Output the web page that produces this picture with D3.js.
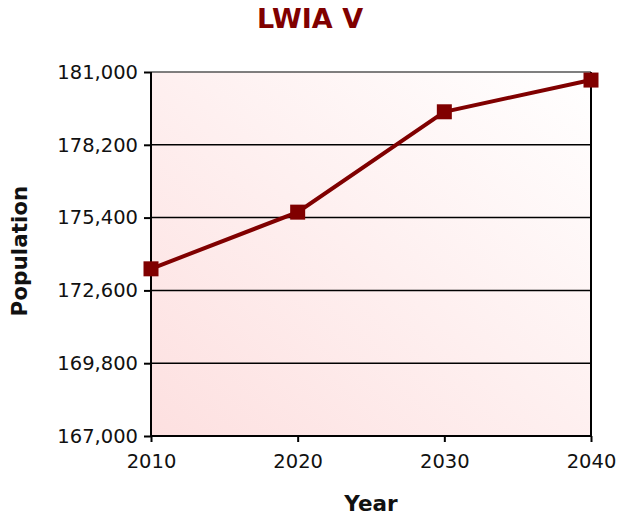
<!DOCTYPE html>
<html>
<head>
<meta charset="utf-8">
<script src="https://d3js.org/d3.v7.min.js"></script>
<style>
  body { margin: 0; background: #fff; }
  svg text { font-family: "DejaVu Sans", Verdana, sans-serif; }
</style>
</head>
<body>
<svg width="619" height="517"></svg>
<script>
'use strict'

var years = [2010, 2020, 2030, 2040];
var population = [173430, 175610, 179470, 180690];
var yTicks = [167000, 169800, 172600, 175400, 178200, 181000];
var title = "LWIA V";

var svg = d3.select("svg"),
  margin = { top: 72, right: 28, bottom: 81, left: 151 },
  width = +svg.attr("width") - margin.left - margin.right,
  height = +svg.attr("height") - margin.top - margin.bottom;

var x = d3.scaleLinear().domain([2010, 2040]).range([0, width]);
var y = d3.scaleLinear().domain([167000, 181000]).range([height, 0]);

var defs = svg.append("defs");
var grad = defs.append("linearGradient")
  .attr("id", "bg")
  .attr("x1", "0%").attr("y1", "100%")
  .attr("x2", "100%").attr("y2", "0%");
grad.append("stop").attr("offset", "0%").attr("stop-color", "#fde0e0");
grad.append("stop").attr("offset", "100%").attr("stop-color", "#ffffff");

var g = svg.append("g")
  .attr("transform", "translate(" + margin.left + "," + margin.top + ")");

g.append("rect")
  .attr("width", width)
  .attr("height", height)
  .attr("fill", "url(#bg)");

// gridlines
g.selectAll(".grid")
  .data(yTicks)
  .enter()
  .append("line")
  .attr("class", "grid")
  .attr("x1", 0)
  .attr("x2", width)
  .attr("y1", function(d) { return y(d); })
  .attr("y2", function(d) { return y(d); })
  .attr("stroke", function(d) { return d === 181000 ? "#555" : "#000"; })
  .attr("stroke-width", 1.5);

// right border
g.append("line")
  .attr("x1", width).attr("x2", width)
  .attr("y1", 0).attr("y2", height)
  .attr("stroke", "#000").attr("stroke-width", 2);

var yAxis = d3.axisLeft(y)
  .tickValues(yTicks)
  .tickFormat(d3.format(","))
  .tickSize(7)
  .tickPadding(6);

var xAxis = d3.axisBottom(x)
  .tickValues(years)
  .tickFormat(d3.format("d"))
  .tickSize(6)
  .tickPadding(12);

var yg = g.append("g").call(yAxis);
var xg = g.append("g").attr("transform", "translate(0," + height + ")").call(xAxis);

[yg, xg].forEach(function(a) {
  a.select(".domain").attr("stroke", "#000").attr("stroke-width", 2);
  a.selectAll(".tick line").attr("stroke", "#000").attr("stroke-width", 2);
  a.selectAll("text").attr("font-size", 19.5).attr("fill", "#111");
});
yg.select(".domain").attr("d", "M0," + height + "V0");
xg.select(".domain").attr("d", "M0,0H" + width);

var line = d3.line()
  .x(function(d, i) { return x(years[i]); })
  .y(function(d) { return y(d); });

g.append("path")
  .datum(population)
  .attr("d", line)
  .attr("fill", "none")
  .attr("stroke", "#800000")
  .attr("stroke-width", 4);

var ms = 15;
g.selectAll(".marker")
  .data(population)
  .enter()
  .append("rect")
  .attr("class", "marker")
  .attr("x", function(d, i) { return x(years[i]) - ms / 2; })
  .attr("y", function(d) { return y(d) - ms / 2; })
  .attr("width", ms)
  .attr("height", ms)
  .attr("fill", "#800000");

svg.append("text")
  .attr("x", 310)
  .attr("y", 28)
  .attr("text-anchor", "middle")
  .attr("font-size", 27)
  .attr("font-weight", "bold")
  .attr("fill", "#800000")
  .text(title);

svg.append("text")
  .attr("x", 371)
  .attr("y", 511)
  .attr("text-anchor", "middle")
  .attr("font-size", 21.5)
  .attr("font-weight", "bold")
  .attr("fill", "#111")
  .text("Year");

svg.append("text")
  .attr("transform", "translate(27," + 251 + ") rotate(-90)")
  .attr("text-anchor", "middle")
  .attr("font-size", 21.5)
  .attr("font-weight", "bold")
  .attr("fill", "#111")
  .text("Population");
</script>
</body>
</html>
